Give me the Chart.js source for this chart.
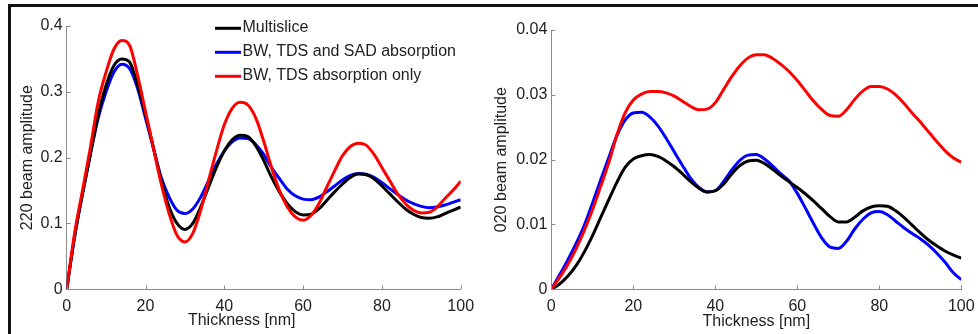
<!DOCTYPE html>
<html>
<head>
<meta charset="utf-8">
<script src="https://cdn.jsdelivr.net/npm/chart.js@4.4.1/dist/chart.umd.min.js"></script>
<style>
  html, body { margin: 0; padding: 0; background: #fff; }
  #wrap { position: relative; width: 978px; height: 334px; overflow: hidden; }
  #topRule { position: absolute; left: 8px; top: 4px; width: 970px; height: 3px; background: #111; }
  #leftRule { position: absolute; left: 8px; top: 4px; width: 3px; height: 330px; background: #111; }
  canvas { position: absolute; top: 0; }
  #c220 { left: 0; }
  #c020 { left: 488px; }
</style>
</head>
<body>
<div id="wrap">
  <canvas id="c220" width="488" height="334"></canvas>
  <canvas id="c020" width="490" height="334"></canvas>
  <div id="topRule"></div>
  <div id="leftRule"></div>
</div>
<script>
// Thickness samples [nm]
const thickness = [0, 2, 4, 6, 8, 10, 12, 14, 16, 18, 20, 22, 24, 26, 28, 30, 32, 34, 36, 38, 40,
  42, 44, 46, 48, 50, 52, 54, 56, 58, 60, 62, 64, 66, 68, 70, 72, 74, 76, 78, 80,
  82, 84, 86, 88, 90, 92, 94, 96, 98, 100];

const seriesNames = ['Multislice', 'BW, TDS and SAD absorption', 'BW, TDS absorption only'];
const seriesColors = ['#000000', '#0000ff', '#ff0000'];

// 220 beam amplitude
const multislice220 = [0, 0.08, 0.145, 0.205, 0.265, 0.31, 0.34, 0.35, 0.345, 0.31, 0.265,
  0.215, 0.165, 0.125, 0.1, 0.091, 0.1, 0.125, 0.155, 0.185, 0.21,
  0.227, 0.234, 0.232, 0.218, 0.196, 0.17, 0.148, 0.13, 0.118, 0.113,
  0.114, 0.122, 0.135, 0.148, 0.16, 0.17, 0.175, 0.174, 0.168, 0.157,
  0.145, 0.133, 0.122, 0.114, 0.109, 0.108, 0.11, 0.115, 0.12, 0.125];
const bwSad220 = [0, 0.08, 0.145, 0.205, 0.26, 0.3, 0.33, 0.342, 0.335, 0.305, 0.26,
  0.215, 0.17, 0.14, 0.12, 0.115, 0.122, 0.14, 0.165, 0.19, 0.21,
  0.224, 0.23, 0.229, 0.22, 0.205, 0.185, 0.168, 0.152, 0.142, 0.137,
  0.136, 0.14, 0.148, 0.157, 0.166, 0.173, 0.176, 0.175, 0.17, 0.162,
  0.153, 0.144, 0.136, 0.13, 0.126, 0.124, 0.125, 0.128, 0.132, 0.136];
const bwTds220 = [0, 0.085, 0.15, 0.215, 0.285, 0.33, 0.365, 0.378, 0.37, 0.325, 0.27,
  0.215, 0.16, 0.115, 0.082, 0.072, 0.085, 0.12, 0.165, 0.21, 0.25,
  0.275, 0.284, 0.28, 0.26, 0.225, 0.185, 0.15, 0.125, 0.11, 0.105,
  0.112, 0.13, 0.155, 0.18, 0.203, 0.217, 0.222, 0.219, 0.205, 0.185,
  0.165, 0.145, 0.13, 0.12, 0.116, 0.117, 0.125, 0.138, 0.15, 0.164];

// 020 beam amplitude
const multislice020 = [0, 0.0008, 0.002, 0.0036, 0.0057, 0.0082, 0.011, 0.0138, 0.0165, 0.0188, 0.0201,
  0.0206, 0.0208, 0.0205, 0.0198, 0.0189, 0.0178, 0.0166, 0.0156, 0.015, 0.0152,
  0.0162, 0.0178, 0.0191, 0.0198, 0.0199, 0.0194, 0.0185, 0.0175, 0.0166, 0.0157,
  0.0147, 0.0136, 0.0124, 0.0112, 0.0104, 0.0104, 0.0111, 0.0121, 0.0127, 0.0129,
  0.0128, 0.0121, 0.0111, 0.0099, 0.0087, 0.0076, 0.0067, 0.0059, 0.0053, 0.0048];
const bwSad020 = [0, 0.0022, 0.0045, 0.007, 0.0098, 0.0132, 0.0168, 0.0203, 0.0237, 0.0261, 0.0272,
  0.0273, 0.0266, 0.0252, 0.0233, 0.0212, 0.0191, 0.0171, 0.0157, 0.015, 0.0152,
  0.0166, 0.0184, 0.0199, 0.0207, 0.0208, 0.0201, 0.019, 0.0178, 0.0167, 0.0148,
  0.0125, 0.0101, 0.0079, 0.0065, 0.0063, 0.0074, 0.0093, 0.0108, 0.0118, 0.012,
  0.0115, 0.0105, 0.0095, 0.0086, 0.0078, 0.0068, 0.0056, 0.0042, 0.0026, 0.0015];
const bwTds020 = [0, 0.0018, 0.0038, 0.0062, 0.009, 0.0122, 0.0158, 0.0195, 0.0238, 0.0272, 0.0292,
  0.0301, 0.0305, 0.0305, 0.0303, 0.0298, 0.029, 0.0282, 0.0277, 0.0278, 0.0288,
  0.0308, 0.0328, 0.0345, 0.0357, 0.0362, 0.0362, 0.0356, 0.0347, 0.0336, 0.0322,
  0.0306, 0.029, 0.0277, 0.0268, 0.0267, 0.0277, 0.0293, 0.0306, 0.0313, 0.0313,
  0.0309, 0.03, 0.0287, 0.0272, 0.0258, 0.0243, 0.0228, 0.0214, 0.0203, 0.0196];

const axisGray = '#8c8c8c';
const textColor = '#1e1e1e';
const fontFamily = '"Liberation Sans", Arial, Helvetica, sans-serif';

// draw order: red on top, then black, blue underneath
const drawOrder = [1, 2, 0];

function makeDatasets(lists) {
  return lists.map((vals, i) => ({
    label: seriesNames[i],
    data: thickness.map((t, k) => ({ x: t, y: vals[k] })),
    borderColor: seriesColors[i],
    backgroundColor: seriesColors[i],
    borderWidth: 3,
    pointRadius: 0,
    fill: false,
    cubicInterpolationMode: 'monotone',
    order: drawOrder[i]
  }));
}

// inward tick marks, axis titles and the in-plot legend
const panelDecor = {
  id: 'panelDecor',
  afterDraw(chart, args, opts) {
    const { ctx, chartArea: a, scales: { x, y } } = chart;
    ctx.save();
    ctx.strokeStyle = axisGray;
    ctx.lineWidth = 1;
    ctx.beginPath();
    x.ticks.forEach(t => {
      const px = Math.round(x.getPixelForValue(t.value)) + 0.5;
      ctx.moveTo(px, a.bottom);
      ctx.lineTo(px, a.bottom - 4);
    });
    y.ticks.forEach(t => {
      const py = Math.round(y.getPixelForValue(t.value)) + 0.5;
      ctx.moveTo(a.left, py);
      ctx.lineTo(a.left + 4, py);
    });
    ctx.stroke();

    ctx.fillStyle = textColor;
    ctx.font = '16px ' + fontFamily;
    ctx.textAlign = 'center';
    ctx.textBaseline = 'alphabetic';
    ctx.fillText(opts.xTitle, (a.left + a.right) / 2 + opts.xTitleShift, opts.xTitleBase);

    ctx.save();
    ctx.translate(opts.yTitleBase, (a.top + a.bottom) / 2);
    ctx.rotate(-Math.PI / 2);
    ctx.fillText(opts.yTitle, 0, 0);
    ctx.restore();

    if (opts.legend) {
      ctx.textAlign = 'left';
      ctx.lineWidth = 3;
      chart.data.datasets.forEach((ds, i) => {
        const ly = 28.3 + i * 24;
        ctx.strokeStyle = ds.borderColor;
        ctx.beginPath();
        ctx.moveTo(215, ly);
        ctx.lineTo(241, ly);
        ctx.stroke();
        ctx.fillText(ds.label, 242.5, ly + 3.6);
      });
    }
    ctx.restore();
  }
};

function makeChart(canvasId, lists, yMax, yStep, yAxisWidth, pad, decor) {
  return new Chart(document.getElementById(canvasId), {
    type: 'line',
    data: { datasets: makeDatasets(lists) },
    options: {
      responsive: false,
      animation: false,
      layout: { padding: pad },
      plugins: {
        legend: { display: false },
        tooltip: { enabled: false },
        panelDecor: decor
      },
      scales: {
        x: {
          type: 'linear',
          min: 0,
          max: 100,
          ticks: {
            stepSize: 20,
            padding: 8,
            color: textColor,
            font: { size: 16, family: fontFamily },
            maxRotation: 0
          },
          grid: { display: false, drawTicks: false },
          border: { display: true, color: axisGray, width: 1 },
          afterFit: s => { s.height = 44.7; s.paddingLeft = 0; s.paddingRight = 0; }
        },
        y: {
          min: 0,
          max: yMax,
          ticks: {
            stepSize: yStep,
            padding: 4,
            color: textColor,
            font: { size: 16, family: fontFamily },
            callback: v => (v === 0 ? '0' : String(+v.toFixed(3)))
          },
          grid: { display: false, drawTicks: false },
          border: { display: true, color: axisGray, width: 1 },
          afterFit: s => { s.width = yAxisWidth; s.paddingTop = 0; s.paddingBottom = 0; }
        }
      }
    },
    plugins: [panelDecor]
  });
}

makeChart('c220', [multislice220, bwSad220, bwTds220], 0.4, 0.1, 66.7,
  { top: 26, right: 27.3, left: 0, bottom: 0 },
  { xTitle: 'Thickness [nm]', xTitleShift: -22, xTitleBase: 324.5,
    yTitle: '220 beam amplitude', yTitleBase: 31.5, legend: true });

makeChart('c020', [multislice020, bwSad020, bwTds020], 0.04, 0.01, 63.3,
  { top: 30, right: 16.7, left: 0, bottom: 0 },
  { xTitle: 'Thickness [nm]', xTitleShift: 0, xTitleBase: 326,
    yTitle: '020 beam amplitude', yTitleBase: 18, legend: false });
</script>
</body>
</html>
